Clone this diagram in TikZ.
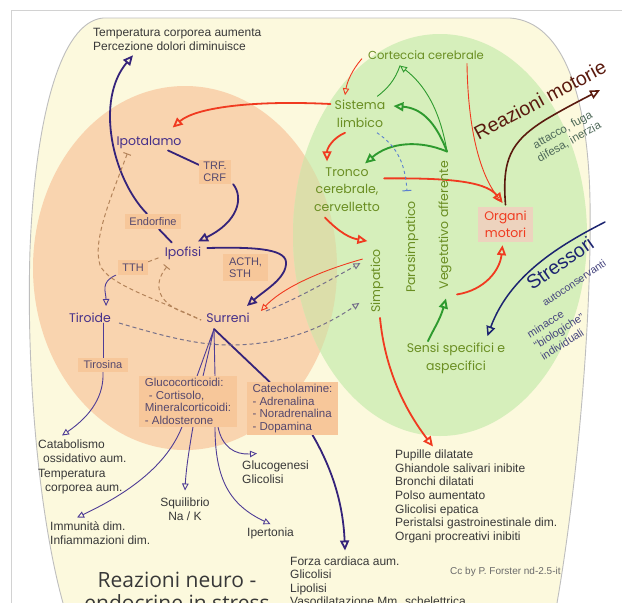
\documentclass[tikz,border=0pt]{standalone}
\usepackage{fontspec}
\setmainfont{Liberation Sans}
\newfontfamily\comicf{Poppins}
\newfontfamily\titlef{Open Sans}
\usetikzlibrary{arrows.meta,calc}
\pgfdeclarelayer{back}
\pgfdeclarelayer{mid}
\pgfsetlayers{back,mid,main}

\definecolor{cream}{HTML}{FCF9DD}
\definecolor{peach}{HTML}{F9D4AF}
\definecolor{lgreen}{HTML}{D6EFBB}
\definecolor{overlapc}{HTML}{DCDEAA}
\definecolor{boxpeach}{HTML}{F7C79A}
\definecolor{purp}{HTML}{35237A}
\definecolor{purp2}{HTML}{4E3C96}
\definecolor{purptext}{HTML}{46308A}
\definecolor{boxtext}{HTML}{55486E}
\definecolor{olive}{HTML}{6A8E22}
\definecolor{redl}{HTML}{F03A20}
\definecolor{greenl}{HTML}{2E9A2E}
\definecolor{navy}{HTML}{1C2470}
\definecolor{maroon}{HTML}{5A1A0E}
\definecolor{greytext}{HTML}{383838}
\definecolor{dashbrown}{HTML}{B4845A}
\definecolor{dashgrey}{HTML}{76708A}
\definecolor{framec}{HTML}{D2D2D2}
\definecolor{shapeedge}{HTML}{BEBEBE}
\definecolor{organbox}{HTML}{EDD3BE}
\definecolor{attc}{HTML}{4F6A5A}
\definecolor{stressc}{HTML}{45447E}
\definecolor{cctext}{HTML}{6A6A6A}
\definecolor{bluedashc}{HTML}{5A7FD0}

\tikzset{
  lbl/.style={inner sep=0pt, align=center, font={\comicf\fontsize{12.5}{17.5}\selectfont}},
  purplbl/.style={lbl, text=purptext},
  greenlbl/.style={lbl, text=olive},
  hbox/.style={fill=boxpeach, inner sep=2pt, text=boxtext, align=left, font={\fontsize{11}{12}\selectfont}},
  bigbox/.style={hbox, font={\fontsize{11.5}{12.6}\selectfont}},
  organstyle/.style={fill=organbox, inner sep=2pt, text=redl, align=center, font={\comicf\fontsize{12.5}{17.5}\selectfont}, minimum width=55pt, minimum height=35pt},
  gtext/.style={inner sep=0pt, text=greytext, align=left, anchor=north west, font={\fontsize{12}{13.7}\selectfont}},
  tri/.style={-{Triangle[open,length=10pt,width=9pt]}},
  trismall/.style={-{Triangle[open,length=7pt,width=6.5pt]}},
  pl/.style={draw=purp, line width=1.8pt, line cap=round},
  plt/.style={draw=purp2, line width=0.9pt, line cap=round},
  rl/.style={draw=redl, line width=1.8pt, line cap=round},
  rlt/.style={draw=redl, line width=0.9pt, line cap=round},
  gl/.style={draw=greenl, line width=1.9pt, line cap=round},
  glt/.style={draw=greenl, line width=0.9pt, line cap=round},
  browndash/.style={draw=dashbrown, line width=1pt, dash pattern=on 4pt off 3pt},
  greydash/.style={draw=dashgrey, line width=1pt, dash pattern=on 4pt off 3pt},
  bluedash/.style={draw=bluedashc, line width=0.9pt, dash pattern=on 3pt off 3pt},
  navyl/.style={draw=navy, line width=1.5pt, line cap=round},
  maroonl/.style={draw=maroon, line width=1.6pt, line cap=round}
}

\begin{document}
\begin{tikzpicture}[x=1pt,y=-1pt]
\useasboundingbox (0,0) rectangle (622,603);

% ---------- background ----------
\begin{pgfonlayer}{back}
\fill[white] (0,0) rectangle (622,603);
\draw[framec, line width=1pt] (11,603) -- (11,10) -- (622,10);
\fill[cream] (103,18) -- (510,18) .. controls (565,22) and (588,100) .. (590,200) .. controls (592,330) and (575,500) .. (557,603) -- (63,603) .. controls (40,520) and (26,380) .. (30,250) .. controls (35,120) and (60,22) .. (103,18) -- cycle;
\begin{scope}
\clip (103,18) -- (510,18) .. controls (565,22) and (588,100) .. (590,200) .. controls (592,330) and (575,500) .. (557,603) -- (63,603) .. controls (40,520) and (26,380) .. (30,250) .. controls (35,120) and (60,22) .. (103,18) -- cycle;
\fill[peach] (185,268) ellipse [x radius=152pt, y radius=182pt];
\fill[lgreen] (440,235) ellipse [x radius=147pt, y radius=201pt];
\begin{scope}
\clip (185,268) ellipse [x radius=152pt, y radius=182pt];
\fill[overlapc] (440,235) ellipse [x radius=147pt, y radius=201pt];
\end{scope}
\end{scope}
\draw[shapeedge, line width=0.9pt] (103,18) -- (510,18) .. controls (565,22) and (588,100) .. (590,200) .. controls (592,330) and (575,500) .. (557,603);
\draw[shapeedge, line width=0.9pt] (63,603) .. controls (40,520) and (26,380) .. (30,250) .. controls (35,120) and (60,22) .. (103,18);
\end{pgfonlayer}

% ---------- grey texts ----------
\node[gtext, font={\fontsize{12}{14}\selectfont}] (temp) at (93,28.5) {Temperatura corporea aumenta\\Percezione dolori diminuisce};
\node[gtext, font={\fontsize{12}{14.3}\selectfont}] (catab) at (38,439.5) {Catabolismo\\\hspace*{5pt}ossidativo aum.\\Temperatura\\\hspace*{7pt}corporea aum.};
\node[gtext, font={\fontsize{12}{14}\selectfont}] (immun) at (50,521.5) {Immunità dim.\\Infiammazioni dim.};
\node[gtext, align=center, anchor=north] (squil) at (185,497.5) {Squilibrio\\Na / K};
\node[gtext] (glucog) at (242,460.5) {Glucogenesi\\Glicolisi};
\node[gtext, anchor=west] (iper) at (247,533) {Ipertonia};
\node[gtext] (pupil) at (395,449.5) {Pupille dilatate\\Ghiandole salivari inibite\\Bronchi dilatati\\Polso aumentato\\Glicolisi epatica\\Peristalsi gastroinestinale dim.\\Organi procreativi inibiti};
\node[gtext, font={\fontsize{12}{13.5}\selectfont}] (forza) at (290,556.5) {Forza cardiaca aum.\\Glicolisi\\Lipolisi\\Vasodilatazione Mm. schelettrica};
\node[inner sep=0pt, anchor=west, text=cctext, font={\fontsize{10}{12}\selectfont}] (cc) at (450,572) {Cc by P. Forster nd-2.5-it};
\node[inner sep=0pt, anchor=north, align=center, text=greytext, font={\titlef\fontsize{21}{23}\selectfont}] (title) at (177,571.5) {Reazioni neuro -\\endocrine in stress};

% ---------- labels ----------
\node[purplbl] (ipot) at (149,142) {Ipotalamo};
\node[purplbl] (ipof) at (183,253) {Ipofisi};
\node[purplbl] (tir) at (90,318) {Tiroide};
\node[purplbl] (sur) at (228,318) {Surreni};
\node[greenlbl, font={\comicf\fontsize{11.6}{17.5}\selectfont}] (cort) at (426,55) {Corteccia cerebrale};
\node[greenlbl] (sist) at (360,114) {Sistema\\limbico};
\node[greenlbl] (tronco) at (347,189.5) {Tronco\\cerebrale,\\cervelletto};
\node[greenlbl, rotate=90] (simp) at (377,281) {Simpatico};
\node[greenlbl, rotate=90] (para) at (412,247) {Parasimpatico};
\node[greenlbl, rotate=90] (veg) at (445,225) {Vegetativo afferente};
\node[greenlbl] (sensi) at (456,358.5) {Sensi specifici e\\aspecifici};

% ---------- boxes ----------
\node[hbox, minimum width=32pt, minimum height=24pt] (trf) at (215,172) {TRF.\\CRF};
\node[hbox, minimum width=56pt, minimum height=15pt] (endo) at (153,221.5) {Endorfine};
\node[hbox, minimum width=30pt, minimum height=15pt] (tth) at (133,267.5) {TTH};
\node[hbox, minimum width=45pt, minimum height=27pt] (acth) at (245.5,267.5) {ACTH,\\STH};
\node[hbox, minimum width=50pt, minimum height=14pt] (tiros) at (103,365) {Tirosina};
\node[bigbox, minimum width=98pt, minimum height=49pt] (gluco) at (188,401.5) {Glucocorticoidi:\\\hspace*{4pt}- Cortisolo,\\Mineralcorticoidi:\\- Aldosterone};
\node[bigbox, minimum width=91pt, minimum height=51pt] (catec) at (292.5,408.5) {Catecholamine:\\- Adrenalina\\- Noradrenalina\\- Dopamina};
\node[organstyle] (organi) at (505.5,224.5) {Organi\\motori};

% ---------- rotated texts ----------
\node[rotate=28, text=maroon, inner sep=0pt, font={\fontsize{19.5}{22}\selectfont}] (reaz) at (540,100) {Reazioni motorie};
\node[rotate=29, text=attc, inner sep=0pt, align=center, font={\fontsize{11.5}{13.5}\selectfont}] (attk) at (566,136) {attacco, fuga\\difesa, inerzia};
\node[rotate=35, text=navy, inner sep=0pt, font={\fontsize{19.5}{22}\selectfont}] (stress) at (560,263) {Stressori};
\node[rotate=34, text=stressc, inner sep=0pt, font={\fontsize{10.5}{13}\selectfont}] (autoc) at (574,283) {autoconservanti};
\node[rotate=32, text=stressc, inner sep=0pt, align=left, font={\fontsize{11}{13}\selectfont}] (minac) at (559,331) {minacce\\“biologiche”\\individuali};

% ---------- connectors ----------
\begin{pgfonlayer}{mid}
% purple
\draw[pl] ($(ipof.north west)+(7,-4)$) -- ($(endo.south)+(6,0)$);
\draw[pl,tri] ($(endo.north)+(-6,0)$) .. controls (112,178) and (95,100) .. ($(temp.south west)+(40,4)$);
\draw[pl] ($(ipot.south)+(19,2)$) -- ($(trf.north west)+(0,5)$);
\draw[pl,tri] ($(trf.south east)+(2,0)$) .. controls (244,198) and (238,222) .. ($(ipof.north)+(15,-5)$);
\coordinate (acthbend) at (286,262);
\draw[pl,tri] ($(ipof.east)+(6,-5)$) .. controls (250,247) and (285,248) .. (acthbend) .. controls (287,278) and (265,290) .. ($(sur.north east)+(-3,-7)$);
\draw[plt,trismall] ($(tth.south west)+(-2,0)$) .. controls (100,282) and (106,292) .. ($(tir.north east)+(-5,-7)$);
\draw[plt] (tiros.north |- tir.south) -- (tiros.north);
\draw[plt,trismall] (tiros.south) .. controls (104,395) and (92,415) .. ($(catab.north west)+(24,-4)$);
\coordinate (apex) at ($(sur.south)+(-14,6)$);
\draw[plt] ($(gluco.north)+(9,0)$) -- (apex) -- ($(gluco.north)+(15,0)$);
\draw[plt] (apex) -- ($(gluco.north)+(27,0)$);
\draw[pl] (apex) -- ($(catec.north west)+(23,0)$);
\draw[plt,trismall] ($(gluco.south)+(-6,0)$) .. controls (165,470) and (120,497) .. ($(immun.north west)+(27,-4)$);
\draw[plt,trismall] ($(gluco.south)+(5,0)$) .. controls (189,450) and (186,470) .. ($(squil.north)+(0,-7)$);
\draw[plt,trismall] ($(gluco.south)+(27,0)$) .. controls (215,480) and (230,505) .. ($(iper.north)+(0,-3)$);
\draw[plt,trismall] ($(gluco.south)+(30,0)$) .. controls (222,447) and (235,455) .. ($(glucog.north west)+(15,-7)$);
\draw[pl,tri] ($(catec.south)+(20,0)$) .. controls (330,465) and (343,500) .. ($(forza.north west)+(55,-6)$);
% red
\draw[rl,tri] ($(sist.west)+(-4,-10)$) .. controls (250,100) and (195,108) .. ($(ipot.north east)+(-9,-8)$);
\draw[rlt,trismall] ($(cort.south west)+(-6,-1)$) .. controls (352,70) and (347,82) .. ($(sist.north)+(-15,-5)$);
\draw[rl,tri] ($(sist.south)+(-15,5)$) .. controls (333,138) and (327,148) .. ($(tronco.north)+(-20,-6)$);
\draw[rl,tri] ($(tronco.north east)+(4,11)$) .. controls (440,178) and (485,180) .. ($(organi.north)+(-3,-4)$);
\draw[rlt,trismall] ($(cort.south)+(41,4)$) .. controls (468,130) and (480,175) .. ($(organi.north)+(-3,-4)$);
\draw[rl,tri] ($(tronco.south)+(-22,6)$) .. controls (340,233) and (350,238) .. ($(simp.north east)+(-3,-8)$);
\draw[rlt,trismall] ($(simp.north east)+(-8,10)$) .. controls (330,268) and (285,285) .. ($(sur.east)+(11,-7)$);
\draw[rl,tri] ($(simp.west)+(3,5)$) .. controls (385,370) and (405,410) .. ($(pupil.north west)+(38,-3)$);
\draw[rl,tri] ($(veg.west)+(12,5)$) .. controls (485,290) and (500,270) .. ($(organi.south)+(-3,3)$);
% green
\coordinate (vtop) at ($(veg.east)+(2,-9)$);
\draw[gl,tri] (vtop) .. controls (435,120) and (420,108) .. ($(sist.east)+(8,-8)$);
\draw[gl,tri] (vtop) .. controls (420,140) and (390,142) .. ($(tronco.north east)+(-15,-4)$);
\draw[glt,trismall] (vtop) .. controls (440,110) and (425,85) .. ($(cort.south)+(-26,6)$);
\draw[glt] ($(sist.north east)+(-8,-4)$) .. controls (388,88) and (395,80) .. ($(cort.south)+(-26,6)$);
\draw[gl,tri] ($(sensi.north)+(-28,-2)$) .. controls (433,330) and (440,320) .. ($(veg.west)+(1,9)$);
% blue inhibitory
\draw[bluedash,-{Bar[width=9pt,line width=1pt]}] ($(sist.south)+(17,5)$) .. controls (395,145) and (405,160) .. ($(para.east)+(-5,-10)$);
% brown inhibitory
\coordinate (d1bend) at (100,265);
\draw[browndash,{Bar[width=8pt,line width=1pt]}-] ($(ipot.south west)+(11,5)$) .. controls (112,195) and (92,240) .. (d1bend) .. controls (108,285) and (160,300) .. ($(sur.west)+(-5,2)$);
\coordinate (d2bend) at (185,313);
\draw[browndash,{Bar[width=8pt,line width=1pt]}-] ($(ipof.south)+(-16,7)$) .. controls (152,285) and (158,303) .. (d2bend) -- ($(sur.west)+(-5,2)$);
\draw[browndash] ($(tth.north east)+(0,2)$) -- ($(ipof.west)+(-4,4)$);
% grey dashed
\coordinate (d4bend) at (230,345);
\draw[greydash,trismall] ($(tir.east)+(8,5)$) .. controls (160,335) and (195,345) .. (d4bend) .. controls (280,345) and (320,330) .. ($(simp.north west)+(-11,-10)$);
\draw[greydash,trismall] ($(sur.east)+(16,-7)$) .. controls (295,300) and (330,280) .. ($(simp.north east)+(-10,14)$);
% navy stressori
\coordinate (strin) at (605,222);
\draw[navyl,tri] (strin) .. controls (560,245) and (510,275) .. ($(sensi.north east)+(-18,-7)$);
% maroon reazioni motorie
\coordinate (rembend) at (545,120);
\coordinate (reout) at (600,90);
\draw[maroonl,tri] ($(organi.north)+(0,-2)$) .. controls (502,160) and (510,142) .. (rembend) .. controls (565,108) and (585,98) .. (reout);
\end{pgfonlayer}
\end{tikzpicture}
\end{document}
